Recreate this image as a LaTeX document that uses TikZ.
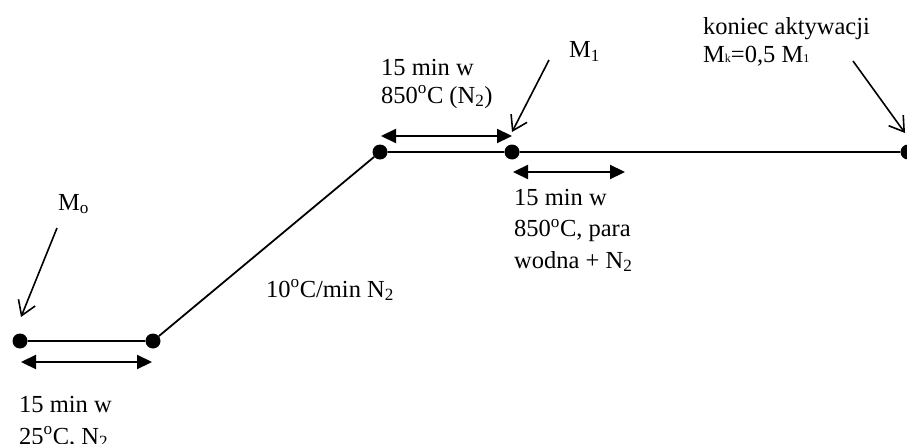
\documentclass[tikz,border=0pt]{standalone}
\usepackage{fontspec}
\setmainfont{Liberation Serif}
\usetikzlibrary{arrows.meta}
\begin{document}
\begin{tikzpicture}[x=1pt,y=-1pt,
  dot/.style={circle,fill=black,inner sep=0pt,minimum size=15pt},
  lbl/.style={anchor=base west,inner sep=0pt,align=left,font=\fontsize{24.5}{28}\selectfont},
  dimline/.style={line width=2.2pt,{Triangle[length=15pt,width=14pt]}-{Triangle[length=15pt,width=14pt]}},
  ptr/.style={line width=1.6pt,-{Straight Barb[length=14pt,width=18pt,line width=1.6pt]}},
  seg/.style={line width=1.8pt}]
\useasboundingbox (0,0) rectangle (907,444);
% main profile
\node[dot] (a) at (20,341) {};
\node[dot] (b) at (153,341) {};
\node[dot] (c) at (380,152) {};
\node[dot] (d) at (512,152) {};
\node[dot] (e) at (908,152) {};
\draw[seg] (a) -- (b) -- (c) -- (d) -- (e);
% dimension arrows
\coordinate (ab1) at (21,362);  \coordinate (ab2) at (152,362);
\coordinate (cd1) at (381,136); \coordinate (cd2) at (512,136);
\coordinate (de1) at (513,172); \coordinate (de2) at (625,172);
\draw[dimline] (ab1) -- (ab2);
\draw[dimline] (cd1) -- (cd2);
\draw[dimline] (de1) -- (de2);
% pointers
\coordinate (p0s) at (57,228);  \coordinate (p0t) at (21,317);
\coordinate (p1s) at (549,60);  \coordinate (p1t) at (512,132);
\coordinate (pks) at (853,61);  \coordinate (pkt) at (905,133);
\draw[ptr] (p0s) -- (p0t);
\draw[ptr] (p1s) -- (p1t);
\draw[ptr] (pks) -- (pkt);
% labels (anchor = baseline of last line)
\node[lbl] (lmo) at (58,210) {M\textsubscript{o}};
\node[lbl] (lm1) at (569,58) {M\textsubscript{1}};
\node[lbl,font=\fontsize{24.5}{28}\selectfont] (lk) at (703,63) {koniec aktywacji\\M{\fontsize{12}{12}\selectfont k}=0,5 M{\fontsize{12}{12}\selectfont 1}};
\node[lbl,font=\fontsize{24.5}{27.5}\selectfont] (l850a) at (381,103) {15 min w\\850\textsuperscript{o}C (N\textsubscript{2})};
\node[lbl,font=\fontsize{24.5}{31.5}\selectfont] (l850b) at (514,268) {15 min w\\850\textsuperscript{o}C, para\\wodna + N\textsubscript{2}};
\node[lbl,font=\fontsize{24.5}{32}\selectfont] (l25) at (19,444) {15 min w\\25\textsuperscript{o}C, N\textsubscript{2}};
\node[lbl] (lramp) at (266,297) {10\textsuperscript{o}C/min N\textsubscript{2}};
\end{tikzpicture}
\end{document}
